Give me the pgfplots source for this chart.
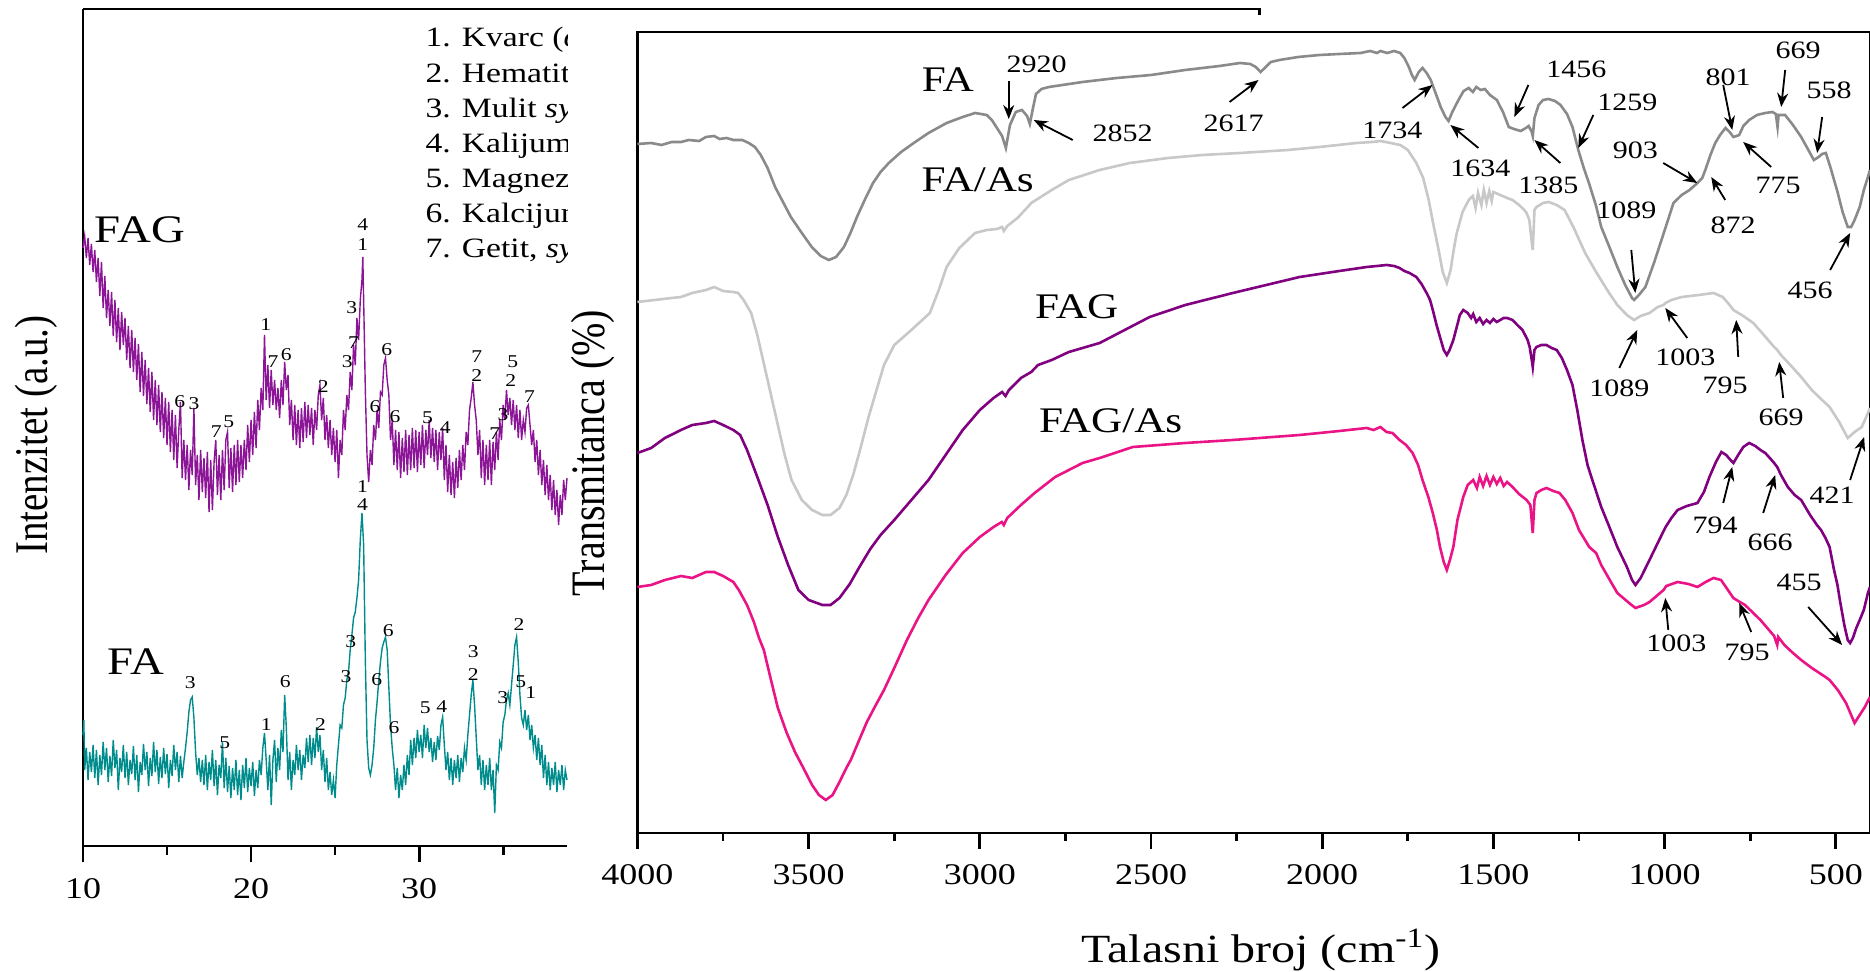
\documentclass[border=0pt]{standalone}
\usepackage{fontspec}
\setmainfont{Liberation Serif}[FakeStretch=1.2]
\newfontfamily\rotfont{Liberation Serif}
\usepackage{graphicx}
\usepackage{pgfplots}
\pgfplotsset{compat=1.18}
\usetikzlibrary{arrows.meta}
\definecolor{xrdpurple}{RGB}{140,20,150}
\definecolor{xrdteal}{RGB}{0,140,140}
\definecolor{fagray}{RGB}{138,138,138}
\definecolor{faasgray}{RGB}{200,200,200}
\definecolor{fagpurple}{RGB}{128,0,128}
\definecolor{fagaspink}{RGB}{235,20,135}
\newcommand{\fs}[1]{\fontsize{#1}{#1}\selectfont}
\newcommand{\px}[1]{4000-(#1-637.5)*2.91886}
\newcommand{\tx}[1]{10+(#1-83)/16.8}
\tikzset{pk/.style={-{Stealth[length=7pt,width=5.5pt]}, line width=0.9pt},
         lab/.style={font=\fs{12.5}, inner sep=0pt},
         sm/.style={font=\fs{9}, inner sep=0pt}}
\begin{document}
\begin{tikzpicture}
\path[use as bounding box] (0,0) rectangle (935pt,-486pt);
% ---------------- XRD ----------------
\begin{axis}[at={(41.5pt,-4.5pt)}, anchor=north west,
  width=242pt, height=418.5pt, scale only axis,
  xmin=10, xmax=38.8, ymin=-846, ymax=-9,
  axis x line*=bottom, axis y line*=left,
  axis line style={-, line width=1.4pt},
  xtick={10,20,30}, minor xtick={15,25,35}, ytick=\empty,
  tick align=outside, major tick length=8pt, minor tick length=4.5pt,
  every tick/.style={line width=1.4pt, black},
  xticklabel style={font=\fs{15}, yshift=-4.5pt},
  /pgf/number format/assume math mode=true,
  clip=false]
\addplot[xrdpurple, line width=0.7pt] table {
x y
10.0 -248
10.1 -236
10.2 -258
10.3 -238
10.4 -265
10.5 -244
10.6 -272
10.7 -250
10.8 -282
10.9 -258
11.0 -296
11.1 -262
11.2 -308
11.3 -276
11.4 -318
11.5 -290
11.6 -326
11.7 -292
11.8 -336
11.9 -300
12.0 -342
12.1 -308
12.2 -350
12.3 -312
12.4 -345
12.5 -318
12.6 -360
12.7 -326
12.8 -368
12.9 -330
13.0 -372
13.1 -338
13.2 -380
13.3 -344
13.4 -392
13.5 -352
13.6 -396
13.7 -360
13.8 -404
13.9 -368
14.0 -412
14.1 -372
14.2 -420
14.3 -380
14.4 -425
14.5 -385
14.6 -432
14.7 -392
14.8 -438
14.9 -398
15.0 -445
15.1 -402
15.2 -452
15.3 -410
15.4 -460
15.5 -415
15.6 -468
15.7 -430
15.8 -402
15.9 -478
16.0 -440
16.1 -480
16.2 -445
16.3 -490
16.4 -450
16.5 -475
16.6 -408
16.7 -485
16.8 -455
16.9 -500
17.0 -450
17.1 -492
17.2 -458
17.3 -498
17.4 -452
17.5 -512
17.6 -460
17.7 -510
17.8 -462
17.9 -440
18.0 -495
18.1 -455
18.2 -500
18.3 -450
18.4 -490
18.5 -440
18.6 -432
18.7 -488
18.8 -448
18.9 -492
19.0 -445
19.1 -485
19.2 -440
19.3 -482
19.4 -445
19.5 -478
19.6 -440
19.7 -470
19.8 -425
19.9 -462
20.0 -420
20.1 -455
20.2 -412
20.3 -448
20.4 -400
20.5 -430
20.6 -388
20.7 -410
20.8 -335
20.9 -400
21.0 -365
21.1 -408
21.2 -370
21.3 -405
21.4 -380
21.5 -410
21.6 -388
21.7 -418
21.8 -380
21.9 -405
22.0 -362
22.1 -390
22.2 -375
22.3 -425
22.4 -400
22.5 -440
22.6 -405
22.7 -445
22.8 -410
22.9 -448
23.0 -408
23.1 -442
23.2 -402
23.3 -438
23.4 -405
23.5 -435
23.6 -408
23.7 -445
23.8 -410
23.9 -430
24.0 -395
24.1 -385
24.2 -420
24.3 -398
24.4 -440
24.5 -415
24.6 -448
24.7 -420
24.8 -455
24.9 -428
25.0 -462
25.1 -430
25.2 -478
25.3 -440
25.4 -455
25.5 -410
25.6 -430
25.7 -395
25.8 -410
25.9 -372
26.0 -390
26.1 -345
26.2 -365
26.3 -318
26.4 -340
26.5 -300
26.6 -280
26.65 -257
26.7 -300
26.8 -390
26.9 -455
27.0 -482
27.1 -450
27.2 -465
27.3 -425
27.4 -440
27.5 -410
27.6 -428
27.7 -392
27.8 -395
27.9 -365
28.0 -358
28.1 -380
28.2 -395
28.3 -440
28.4 -420
28.5 -465
28.6 -430
28.7 -470
28.8 -432
28.9 -478
29.0 -438
29.1 -472
29.2 -430
29.3 -475
29.4 -435
29.5 -470
29.6 -428
29.7 -468
29.8 -430
29.9 -472
30.0 -432
30.1 -465
30.2 -425
30.3 -468
30.4 -430
30.5 -455
30.6 -420
30.7 -458
30.8 -428
30.9 -462
31.0 -430
31.1 -470
31.2 -432
31.3 -460
31.4 -428
31.5 -480
31.6 -445
31.7 -492
31.8 -455
31.9 -495
32.0 -462
32.1 -498
32.2 -458
32.3 -488
32.4 -450
32.5 -480
32.6 -445
32.7 -470
32.8 -432
32.9 -445
33.0 -410
33.1 -398
33.2 -382
33.3 -405
33.4 -420
33.5 -455
33.6 -430
33.7 -478
33.8 -440
33.9 -485
34.0 -445
34.1 -480
34.2 -440
34.3 -485
34.4 -442
34.5 -470
34.6 -432
34.7 -460
34.8 -420
34.9 -440
35.0 -405
35.1 -420
35.2 -390
35.3 -415
35.4 -398
35.5 -425
35.6 -400
35.7 -430
35.8 -405
35.9 -438
36.0 -410
36.1 -440
36.2 -420
36.3 -432
36.4 -408
36.5 -405
36.6 -425
36.7 -445
36.8 -430
36.9 -462
37.0 -440
37.1 -475
37.2 -450
37.3 -485
37.4 -460
37.5 -495
37.6 -465
37.7 -500
37.8 -475
37.9 -510
38.0 -480
38.1 -515
38.2 -490
38.3 -525
38.4 -495
38.5 -515
38.6 -480
38.7 -500
38.8 -478
};
\addplot[xrdteal, line width=0.7pt] table {
x y
10.0 -735
10.05 -720
10.1 -770
10.2 -748
10.3 -780
10.4 -752
10.5 -772
10.6 -745
10.7 -778
10.8 -750
10.9 -785
11.0 -755
11.1 -775
11.2 -742
11.3 -770
11.4 -748
11.5 -782
11.6 -756
11.7 -776
11.8 -740
11.9 -768
12.0 -750
12.1 -790
12.2 -758
12.3 -772
12.4 -745
12.5 -778
12.6 -752
12.7 -785
12.8 -760
12.9 -774
13.0 -746
13.1 -780
13.2 -755
13.3 -792
13.4 -762
13.5 -775
13.6 -744
13.7 -770
13.8 -752
13.9 -786
14.0 -758
14.1 -776
14.2 -742
14.3 -772
14.4 -750
14.5 -784
14.6 -757
14.7 -778
14.8 -748
14.9 -774
15.0 -754
15.1 -788
15.2 -760
15.3 -776
15.4 -745
15.5 -770
15.6 -752
15.7 -782
15.8 -756
15.9 -778
16.0 -762
16.1 -748
16.2 -732
16.3 -712
16.4 -700
16.5 -697
16.6 -718
16.7 -752
16.8 -775
16.9 -758
17.0 -782
17.1 -760
17.2 -785
17.3 -755
17.4 -790
17.5 -762
17.6 -780
17.7 -750
17.8 -786
17.9 -760
18.0 -795
18.1 -765
18.2 -778
18.3 -742
18.4 -788
18.5 -758
18.6 -792
18.7 -766
18.8 -798
18.9 -768
19.0 -790
19.1 -760
19.2 -795
19.3 -770
19.4 -800
19.5 -765
19.6 -788
19.7 -758
19.8 -792
19.9 -768
20.0 -786
20.1 -762
20.2 -796
20.3 -770
20.4 -788
20.5 -760
20.6 -775
20.7 -748
20.8 -733
20.9 -760
21.0 -790
21.1 -755
21.2 -805
21.3 -760
21.4 -740
21.5 -782
21.6 -748
21.7 -770
21.8 -730
21.9 -752
22.0 -695
22.1 -728
22.2 -780
22.3 -752
22.4 -790
22.5 -760
22.6 -775
22.7 -745
22.8 -770
22.9 -750
23.0 -780
23.1 -755
23.2 -768
23.3 -738
23.4 -762
23.5 -735
23.6 -765
23.7 -738
23.8 -758
23.9 -727
24.0 -752
24.1 -735
24.2 -770
24.3 -750
24.4 -782
24.5 -758
24.6 -790
24.7 -772
24.8 -795
24.9 -780
25.0 -798
25.1 -765
25.2 -745
25.3 -725
25.4 -728
25.5 -705
25.6 -698
25.7 -680
25.8 -672
25.9 -650
26.0 -635
26.1 -618
26.2 -612
26.3 -598
26.4 -580
26.5 -540
26.6 -513
26.7 -545
26.8 -660
26.9 -740
27.0 -768
27.1 -775
27.2 -765
27.3 -748
27.4 -720
27.5 -702
27.6 -680
27.7 -662
27.8 -648
27.9 -642
28.0 -637
28.1 -650
28.2 -688
28.3 -725
28.4 -748
28.5 -765
28.6 -790
28.7 -768
28.8 -798
28.9 -775
29.0 -790
29.1 -765
29.2 -785
29.3 -755
29.4 -775
29.5 -740
29.6 -765
29.7 -738
29.8 -758
29.9 -730
30.0 -752
30.1 -735
30.2 -758
30.3 -725
30.4 -748
30.5 -728
30.6 -752
30.7 -738
30.8 -762
30.9 -742
31.0 -760
31.1 -736
31.2 -750
31.3 -725
31.4 -717
31.5 -745
31.6 -770
31.7 -752
31.8 -780
31.9 -758
32.0 -785
32.1 -760
32.2 -778
32.3 -755
32.4 -782
32.5 -758
32.6 -772
32.7 -748
32.8 -760
32.9 -735
33.0 -715
33.1 -695
33.2 -680
33.3 -705
33.4 -738
33.5 -770
33.6 -755
33.7 -785
33.8 -760
33.9 -790
34.0 -765
34.1 -785
34.2 -758
34.3 -790
34.4 -770
34.5 -813
34.6 -765
34.7 -770
34.8 -742
34.9 -748
35.0 -722
35.1 -715
35.2 -700
35.3 -693
35.4 -705
35.5 -685
35.6 -665
35.7 -645
35.8 -637
35.9 -662
36.0 -695
36.1 -718
36.2 -725
36.3 -710
36.4 -730
36.5 -715
36.6 -740
36.7 -725
36.8 -748
36.9 -735
37.0 -760
37.1 -738
37.2 -765
37.3 -745
37.4 -778
37.5 -755
37.6 -785
37.7 -762
37.8 -790
37.9 -768
38.0 -785
38.1 -762
38.2 -792
38.3 -770
38.4 -785
38.5 -765
38.6 -790
38.7 -770
38.8 -780
};
% frame top line
\draw[line width=1.4pt] (axis cs:10,-9) -- (axis cs:80,-9) -- (axis cs:80,-15);
% labels
\node[font=\fs{19.5}] at (axis cs:{\tx{140}},-230) {FAG};
\node[font=\fs{19.5}] at (axis cs:{\tx{136}},-662) {FA};
\node[rotate=90, font=\rotfont\fs{19.5}] at (axis cs:{\tx{36}},-435) {\scalebox{1}[1.2]{Intenzitet (a.u.)}};
% legend lines
\begin{scope}[every node/.style={anchor=west, font=\fs{14}, inner sep=0pt}]
\node at (axis cs:{\tx{425}},-40) {1. Kvarc (\textit{α}};
\node at (axis cs:{\tx{425}},-76) {2. Hematit (};
\node at (axis cs:{\tx{425}},-111) {3. Mulit \textit{syn}};
\node at (axis cs:{\tx{425}},-146) {4. Kalijum};
\node at (axis cs:{\tx{425}},-181) {5. Magnezij};
\node at (axis cs:{\tx{425}},-216) {6. Kalcijum};
\node at (axis cs:{\tx{425}},-251) {7. Getit, \textit{syn}};
\end{scope}
% FAG peak numbers
\node[sm] at (axis cs:15.76,-402) {6};
\node[sm] at (axis cs:16.6,-404) {3};
\node[sm] at (axis cs:17.93,-432) {7};
\node[sm] at (axis cs:18.67,-422) {5};
\node[sm] at (axis cs:20.87,-325) {1};
\node[sm] at (axis cs:21.31,-362) {7};
\node[sm] at (axis cs:22.1,-355) {6};
\node[sm] at (axis cs:24.29,-387) {2};
\node[sm] at (axis cs:26.65,-225) {4};
\node[sm] at (axis cs:26.65,-245) {1};
\node[sm] at (axis cs:26.0,-308) {3};
\node[sm] at (axis cs:26.1,-343) {7};
\node[sm] at (axis cs:25.73,-362) {3};
\node[sm] at (axis cs:28.08,-350) {6};
\node[sm] at (axis cs:27.38,-407) {6};
\node[sm] at (axis cs:28.57,-417) {6};
\node[sm] at (axis cs:30.5,-418) {5};
\node[sm] at (axis cs:31.55,-428) {4};
\node[sm] at (axis cs:33.43,-357) {7};
\node[sm] at (axis cs:33.43,-376) {2};
\node[sm] at (axis cs:34.5,-434) {7};
\node[sm] at (axis cs:35.0,-415) {3};
\node[sm] at (axis cs:35.57,-362) {5};
\node[sm] at (axis cs:35.45,-381) {2};
\node[sm] at (axis cs:36.57,-397) {7};
% FA peak numbers
\node[sm] at (axis cs:16.39,-683) {3};
\node[sm] at (axis cs:18.43,-743) {5};
\node[sm] at (axis cs:20.91,-725) {1};
\node[sm] at (axis cs:22.04,-682) {6};
\node[sm] at (axis cs:24.13,-725) {2};
\node[sm] at (axis cs:26.63,-487) {1};
\node[sm] at (axis cs:26.63,-505) {4};
\node[sm] at (axis cs:25.93,-642) {3};
\node[sm] at (axis cs:25.65,-677) {3};
\node[sm] at (axis cs:28.17,-631) {6};
\node[sm] at (axis cs:27.48,-680) {6};
\node[sm] at (axis cs:28.51,-728) {6};
\node[sm] at (axis cs:30.36,-708) {5};
\node[sm] at (axis cs:31.35,-707) {4};
\node[sm] at (axis cs:33.23,-652) {3};
\node[sm] at (axis cs:33.23,-675) {2};
\node[sm] at (axis cs:34.98,-698) {3};
\node[sm] at (axis cs:35.95,-625) {2};
\node[sm] at (axis cs:36.05,-682) {5};
\node[sm] at (axis cs:36.65,-693) {1};
% white gap between panels
\fill[white] (axis cs:38.85,-14) rectangle (axis cs:44,-972);
\end{axis}
% ---------------- FTIR ----------------
\begin{axis}[at={(318.75pt,-16pt)}, anchor=north west,
  width=616.25pt, height=400.5pt, scale only axis,
  xmin=400, xmax=4000, x dir=reverse, ymin=-833, ymax=-32,
  axis background/.style={fill=white},
  axis line style={line width=1.4pt},
  xtick={500,1000,...,4000}, minor xtick={750,1250,...,3750}, ytick=\empty,
  xtick pos=bottom,
  tick align=outside, major tick length=8pt, minor tick length=4pt,
  every tick/.style={line width=1.4pt, black},
  xticklabel style={font=\fs{15}, yshift=-4pt},
  /pgf/number format/1000 sep={},
  /pgf/number format/assume math mode=true,
  clip=false]
\addplot[fagray, line width=1.3pt] coordinates {
(4000,-144) (3960,-143) (3930,-145) (3900,-142) (3873,-142) (3850,-140) (3820,-141) (3800,-137) (3776,-136) (3760,-139) (3740,-138) (3720,-140) (3694,-140) (3675,-143) (3657,-147) (3640,-155) (3620,-168) (3598,-187) (3575,-202) (3552,-217) (3520,-233) (3491,-247) (3465,-256) (3441,-260) (3420,-257) (3397,-247) (3378,-233) (3359,-217) (3335,-199) (3312,-183) (3290,-172) (3266,-163) (3230,-152) (3193,-143) (3150,-133) (3097,-123) (3050,-117) (3014,-113) (2980,-115) (2965,-120) (2950,-128) (2935,-136) (2924,-148) (2912,-125) (2895,-112) (2877,-110) (2862,-116) (2854,-124) (2846,-110) (2836,-94) (2820,-89) (2798,-87) (2700,-82) (2600,-78) (2500,-75) (2400,-70) (2300,-66) (2240,-63) (2210,-64) (2194,-67) (2180,-72) (2165,-67) (2150,-62) (2125,-60) (2070,-57) (2008,-55) (1950,-54) (1888,-53) (1860,-51) (1840,-53) (1830,-51) (1810,-53) (1790,-51) (1772,-53) (1760,-58) (1747,-67) (1738,-75) (1730,-80) (1718,-72) (1707,-68) (1695,-73) (1683,-80) (1670,-92) (1654,-107) (1640,-117) (1631,-121) (1620,-112) (1602,-100) (1587,-91) (1572,-88) (1560,-92) (1550,-87) (1537,-90) (1525,-89) (1510,-95) (1490,-100) (1472,-112) (1455,-127) (1440,-129) (1420,-131) (1405,-128) (1397,-126) (1388,-132) (1385,-136) (1380,-118) (1368,-105) (1355,-100) (1339,-99) (1320,-101) (1304,-105) (1285,-114) (1269,-127) (1252,-150) (1236,-168) (1220,-184) (1200,-206) (1185,-227) (1160,-248) (1138,-267) (1115,-285) (1095,-298) (1089,-300) (1075,-295) (1056,-287) (1030,-262) (1009,-240) (990,-220) (974,-203) (950,-195) (927,-190) (904,-183) (890,-178) (881,-170) (866,-155) (852,-143) (838,-135) (822,-128) (810,-132) (799,-137) (790,-136) (782,-135) (770,-126) (753,-120) (730,-115) (706,-113) (685,-112) (675,-114) (670,-127) (667,-115) (648,-115) (625,-125) (601,-137) (580,-150) (564,-160) (550,-157) (540,-154) (529,-153) (515,-168) (494,-193) (480,-212) (465,-227) (455,-227) (445,-220) (430,-207) (418,-190) (406,-177) (400,-170)
};
\addplot[faasgray, line width=1.3pt] coordinates {
(4000,-302) (3950,-300) (3900,-298) (3873,-297) (3840,-293) (3800,-290) (3776,-287) (3750,-291) (3720,-292) (3706,-293) (3690,-300) (3668,-313) (3650,-335) (3630,-365) (3610,-395) (3590,-425) (3570,-455) (3550,-480) (3520,-500) (3490,-510) (3460,-515) (3436,-515) (3410,-508) (3390,-495) (3370,-475) (3350,-450) (3325,-417) (3300,-388) (3280,-365) (3250,-345) (3200,-330) (3146,-313) (3120,-290) (3097,-267) (3060,-248) (3014,-233) (2980,-230) (2950,-229) (2935,-227) (2930,-231) (2920,-226) (2890,-218) (2860,-207) (2850,-203) (2836,-200) (2790,-190) (2740,-180) (2650,-170) (2562,-163) (2450,-158) (2350,-155) (2240,-153) (2100,-150) (2008,-147) (1900,-143) (1853,-142) (1830,-141) (1800,-143) (1772,-145) (1750,-150) (1725,-163) (1705,-178) (1689,-200) (1675,-225) (1660,-250) (1648,-272) (1636,-283) (1625,-270) (1615,-248) (1607,-233) (1590,-212) (1572,-200) (1560,-196) (1552,-208) (1545,-193) (1535,-205) (1528,-190) (1520,-203) (1512,-191) (1505,-201) (1500,-192) (1480,-195) (1460,-198) (1444,-200) (1425,-205) (1410,-210) (1403,-213) (1395,-220) (1387,-245) (1385,-250) (1380,-210) (1374,-207) (1355,-203) (1339,-202) (1315,-205) (1292,-210) (1265,-228) (1232,-253) (1200,-272) (1162,-293) (1138,-305) (1110,-315) (1089,-320) (1070,-316) (1044,-313) (1020,-307) (1003,-305) (997,-303) (980,-300) (950,-297) (900,-295) (857,-293) (830,-297) (810,-305) (799,-310) (770,-316) (741,-323) (710,-335) (680,-347) (671,-350) (660,-355) (630,-366) (601,-377) (570,-390) (540,-400) (518,-407) (490,-422) (465,-438) (445,-432) (424,-427) (406,-413) (400,-408)
};
\addplot[fagpurple, line width=1.3pt] coordinates {
(4000,-453) (3960,-448) (3920,-438) (3873,-430) (3840,-425) (3800,-423) (3776,-421) (3750,-425) (3720,-430) (3700,-435) (3680,-450) (3650,-477) (3620,-505) (3590,-537) (3560,-565) (3530,-590) (3500,-600) (3460,-605) (3436,-605) (3410,-598) (3380,-584) (3350,-566) (3320,-549) (3290,-535) (3250,-520) (3200,-500) (3150,-480) (3100,-455) (3050,-430) (3000,-410) (2960,-398) (2935,-392) (2925,-396) (2915,-390) (2880,-378) (2850,-372) (2830,-365) (2790,-360) (2740,-352) (2700,-348) (2650,-343) (2504,-317) (2400,-305) (2261,-293) (2066,-277) (1950,-271) (1870,-267) (1840,-266) (1812,-265) (1790,-266) (1774,-268) (1760,-271) (1745,-273) (1725,-277) (1710,-284) (1695,-293) (1685,-300) (1677,-310) (1666,-325) (1656,-337) (1645,-350) (1636,-355) (1628,-350) (1617,-340) (1607,-327) (1598,-315) (1588,-310) (1575,-313) (1565,-318) (1559,-314) (1550,-322) (1540,-318) (1530,-324) (1520,-320) (1510,-323) (1500,-319) (1490,-322) (1480,-320) (1470,-318) (1460,-318) (1444,-320) (1430,-325) (1415,-330) (1400,-340) (1394,-347) (1387,-362) (1385,-367) (1380,-350) (1374,-347) (1360,-345) (1345,-345) (1330,-348) (1315,-350) (1300,-358) (1285,-370) (1269,-385) (1255,-410) (1240,-440) (1225,-465) (1211,-480) (1185,-507) (1160,-528) (1138,-547) (1110,-567) (1095,-580) (1085,-585) (1070,-578) (1044,-560) (1020,-543) (997,-527) (980,-518) (962,-510) (935,-506) (904,-503) (885,-492) (869,-477) (850,-462) (834,-452) (820,-455) (810,-459) (799,-463) (785,-455) (770,-447) (753,-443) (735,-446) (720,-450) (706,-453) (690,-459) (680,-463) (671,-467) (660,-475) (640,-487) (620,-495) (601,-500) (575,-515) (555,-525) (543,-530) (530,-538) (518,-547) (505,-570) (495,-585) (488,-600) (475,-625) (465,-640) (458,-643) (450,-638) (440,-628) (430,-620) (418,-610) (406,-593) (400,-587)
};
\addplot[fagaspink, line width=1.3pt] coordinates {
(4000,-587) (3960,-585) (3920,-580) (3873,-576) (3840,-578) (3800,-572) (3776,-572) (3750,-576) (3720,-582) (3704,-590) (3680,-605) (3660,-622) (3645,-638) (3631,-650) (3610,-680) (3590,-708) (3564,-733) (3540,-752) (3517,-767) (3490,-785) (3470,-795) (3450,-800) (3430,-795) (3410,-782) (3390,-768) (3377,-760) (3350,-738) (3330,-722) (3307,-707) (3280,-690) (3250,-668) (3213,-640) (3180,-618) (3150,-600) (3100,-575) (3050,-553) (3000,-537) (2960,-527) (2936,-522) (2930,-525) (2920,-518) (2880,-505) (2840,-493) (2780,-477) (2700,-463) (2650,-458) (2553,-447) (2400,-443) (2261,-440) (2066,-435) (1950,-431) (1870,-428) (1850,-430) (1830,-427) (1812,-432) (1795,-433) (1774,-440) (1755,-445) (1736,-453) (1720,-465) (1707,-480) (1690,-497) (1677,-513) (1665,-530) (1656,-547) (1645,-562) (1636,-570) (1627,-560) (1617,-547) (1605,-520) (1588,-497) (1575,-485) (1559,-480) (1548,-488) (1540,-477) (1530,-486) (1520,-476) (1510,-485) (1500,-477) (1490,-484) (1480,-478) (1470,-486) (1460,-482) (1444,-487) (1425,-494) (1403,-500) (1392,-505) (1387,-525) (1385,-533) (1380,-500) (1374,-493) (1360,-490) (1345,-488) (1325,-491) (1307,-493) (1290,-500) (1269,-513) (1250,-530) (1220,-547) (1200,-553) (1185,-565) (1160,-580) (1138,-593) (1100,-604) (1085,-608) (1060,-605) (1044,-602) (1020,-595) (1003,-590) (995,-586) (962,-582) (930,-584) (904,-587) (880,-582) (857,-578) (835,-580) (815,-590) (799,-598) (785,-601) (765,-605) (741,-613) (720,-620) (700,-628) (680,-636) (671,-645) (668,-637) (650,-645) (625,-653) (601,-660) (570,-668) (530,-677) (518,-680) (494,-690) (470,-703) (455,-715) (445,-723) (430,-715) (415,-707) (400,-697)
};
% curve names
\node[font=\fs{18}] at (axis cs:{\px{948}},-80) {FA};
\node[font=\fs{18}] at (axis cs:{\px{978}},-180) {FA/As};
\node[font=\fs{18}] at (axis cs:{\px{1077}},-307) {FAG};
\node[font=\fs{18}] at (axis cs:{\px{1111}},-421) {FAG/As};
% arrows and band labels
\draw[pk] (axis cs:{\px{1009}},-81) -- (axis cs:{\px{1009}},-119);
\node[lab] at (axis cs:{\px{1037}},-64) {2920};
\draw[pk] (axis cs:{\px{1073}},-140) -- (axis cs:{\px{1034}},-120);
\node[lab] at (axis cs:{\px{1123}},-133) {2852};
\draw[pk] (axis cs:{\px{1230}},-102) -- (axis cs:{\px{1259}},-80);
\node[lab] at (axis cs:{\px{1234}},-123) {2617};
\draw[pk] (axis cs:{\px{1403}},-108) -- (axis cs:{\px{1433}},-85);
\node[lab] at (axis cs:{\px{1393}},-130) {1734};
\draw[pk] (axis cs:{\px{1529}},-85) -- (axis cs:{\px{1515}},-117);
\node[lab] at (axis cs:{\px{1577}},-69) {1456};
\draw[pk] (axis cs:{\px{1479}},-148) -- (axis cs:{\px{1451}},-125);
\node[lab] at (axis cs:{\px{1481}},-168) {1634};
\draw[pk] (axis cs:{\px{1561}},-163) -- (axis cs:{\px{1535}},-140);
\node[lab] at (axis cs:{\px{1549}},-185) {1385};
\draw[pk] (axis cs:{\px{1594}},-115) -- (axis cs:{\px{1579}},-148);
\node[lab] at (axis cs:{\px{1628}},-102) {1259};
\draw[pk] (axis cs:{\px{1664}},-163) -- (axis cs:{\px{1698}},-183);
\node[lab] at (axis cs:{\px{1636}},-150) {903};
\draw[pk] (axis cs:{\px{1632}},-250) -- (axis cs:{\px{1636}},-293);
\node[lab] at (axis cs:{\px{1627}},-210) {1089};
\draw[pk] (axis cs:{\px{1726}},-200) -- (axis cs:{\px{1712}},-177);
\node[lab] at (axis cs:{\px{1734}},-225) {872};
\draw[pk] (axis cs:{\px{1724}},-85) -- (axis cs:{\px{1733}},-130);
\node[lab] at (axis cs:{\px{1729}},-77) {801};
\draw[pk] (axis cs:{\px{1772}},-167) -- (axis cs:{\px{1744}},-142);
\node[lab] at (axis cs:{\px{1779}},-185) {775};
\draw[pk] (axis cs:{\px{1786}},-70) -- (axis cs:{\px{1782}},-107);
\node[lab] at (axis cs:{\px{1799}},-50) {669};
\draw[pk] (axis cs:{\px{1823}},-117) -- (axis cs:{\px{1818}},-153);
\node[lab] at (axis cs:{\px{1830}},-90) {558};
\draw[pk] (axis cs:{\px{1831}},-270) -- (axis cs:{\px{1851}},-233);
\node[lab] at (axis cs:{\px{1811}},-290) {456};
\draw[pk] (axis cs:{\px{1620}},-368) -- (axis cs:{\px{1638}},-330);
\node[lab] at (axis cs:{\px{1620}},-388) {1089};
\draw[pk] (axis cs:{\px{1688}},-338) -- (axis cs:{\px{1666}},-308);
\node[lab] at (axis cs:{\px{1686}},-357) {1003};
\draw[pk] (axis cs:{\px{1739}},-357) -- (axis cs:{\px{1737}},-320);
\node[lab] at (axis cs:{\px{1726}},-385) {795};
\draw[pk] (axis cs:{\px{1784}},-398) -- (axis cs:{\px{1780}},-362);
\node[lab] at (axis cs:{\px{1782}},-417) {669};
\draw[pk] (axis cs:{\px{1851}},-480) -- (axis cs:{\px{1865}},-437);
\node[lab] at (axis cs:{\px{1833}},-495) {421};
\draw[pk] (axis cs:{\px{1724}},-503) -- (axis cs:{\px{1733}},-467);
\node[lab] at (axis cs:{\px{1716}},-525) {794};
\draw[pk] (axis cs:{\px{1764}},-513) -- (axis cs:{\px{1776}},-475);
\node[lab] at (axis cs:{\px{1771}},-542) {666};
\draw[pk] (axis cs:{\px{1809}},-607) -- (axis cs:{\px{1843}},-645);
\node[lab] at (axis cs:{\px{1800}},-582) {455};
\draw[pk] (axis cs:{\px{1669}},-630) -- (axis cs:{\px{1666}},-598);
\node[lab] at (axis cs:{\px{1677}},-643) {1003};
\draw[pk] (axis cs:{\px{1752}},-632) -- (axis cs:{\px{1740}},-603);
\node[lab] at (axis cs:{\px{1748}},-652) {795};
\node[rotate=90, font=\rotfont\fs{20}] at (axis cs:{\px{593}},-453) {\scalebox{1}[1.2]{Transmitanca (\%)}};
\end{axis}
\node[font=\fs{20}] at (630.5pt,-475pt) {Talasni broj (cm\textsuperscript{-1})};
\end{tikzpicture}
\end{document}
